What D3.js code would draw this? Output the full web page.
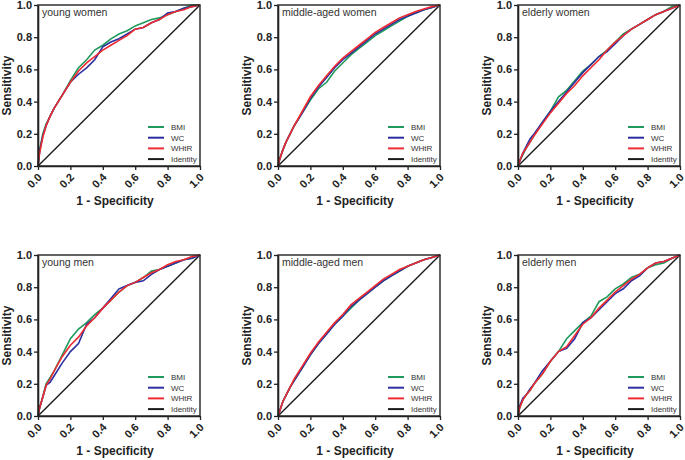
<!DOCTYPE html>
<html>
<head>
<script src="https://d3js.org/d3.v7.min.js" charset="utf-8"></script>
<style>
    body { margin: 0; background: #fff; }
    svg { font-family: "Liberation Sans", Arial, sans-serif; }
</style>
</head>
<body>
<script>
    // false positive rate grid shared by every curve
    var fpr = [0, 0.01, 0.03, 0.05, 0.075, 0.1, 0.15, 0.2, 0.25, 0.3, 0.35, 0.4, 0.45, 0.5, 0.55, 0.6, 0.65, 0.7, 0.75, 0.8, 0.85, 0.9, 0.95, 1];

    var panelNames = ["young women", "middle-aged women", "elderly women", "young men", "middle-aged men", "elderly men"];
    var seriesNames = ["BMI", "WC", "WHtR"];
    var tickValues = [0, 0.2, 0.4, 0.6, 0.8, 1.0];

    // sensitivity
    var ywBMI  = [0, 0.10, 0.20, 0.26, 0.31, 0.36, 0.44, 0.53, 0.61, 0.66, 0.72, 0.75, 0.79, 0.82, 0.84, 0.87, 0.89, 0.91, 0.92, 0.94, 0.96, 0.98, 1.00, 1];
    var ywWC   = [0, 0.09, 0.19, 0.25, 0.31, 0.36, 0.44, 0.52, 0.57, 0.61, 0.66, 0.74, 0.77, 0.79, 0.82, 0.85, 0.86, 0.89, 0.91, 0.95, 0.96, 0.98, 0.99, 1];
    var ywWHtR = [0, 0.08, 0.18, 0.25, 0.31, 0.36, 0.44, 0.52, 0.59, 0.64, 0.68, 0.72, 0.75, 0.78, 0.81, 0.85, 0.86, 0.89, 0.91, 0.94, 0.96, 0.97, 0.99, 1];

    var mwBMI  = [0, 0.04, 0.10, 0.15, 0.20, 0.25, 0.33, 0.41, 0.48, 0.52, 0.59, 0.64, 0.69, 0.73, 0.77, 0.81, 0.84, 0.87, 0.90, 0.93, 0.95, 0.97, 0.985, 1];
    var mwWC   = [0, 0.04, 0.10, 0.15, 0.20, 0.25, 0.33, 0.42, 0.49, 0.55, 0.61, 0.66, 0.70, 0.74, 0.78, 0.82, 0.85, 0.88, 0.91, 0.93, 0.95, 0.97, 0.985, 1];
    var mwWHtR = [0, 0.04, 0.10, 0.15, 0.20, 0.25, 0.34, 0.43, 0.50, 0.56, 0.62, 0.67, 0.71, 0.75, 0.79, 0.83, 0.86, 0.89, 0.92, 0.94, 0.96, 0.975, 0.99, 1];

    var ewBMI  = [0, 0.03, 0.07, 0.11, 0.15, 0.19, 0.27, 0.34, 0.43, 0.47, 0.53, 0.59, 0.63, 0.68, 0.72, 0.77, 0.82, 0.85, 0.88, 0.91, 0.94, 0.96, 0.99, 1];
    var ewWC   = [0, 0.03, 0.08, 0.12, 0.17, 0.20, 0.27, 0.34, 0.40, 0.46, 0.52, 0.58, 0.63, 0.68, 0.71, 0.76, 0.81, 0.85, 0.88, 0.91, 0.94, 0.96, 0.98, 1];
    var ewWHtR = [0, 0.03, 0.08, 0.11, 0.15, 0.19, 0.26, 0.33, 0.39, 0.45, 0.50, 0.56, 0.61, 0.66, 0.72, 0.77, 0.81, 0.85, 0.88, 0.91, 0.94, 0.96, 0.98, 1];

    var ymBMI  = [0, 0.05, 0.12, 0.20, 0.24, 0.28, 0.38, 0.48, 0.54, 0.58, 0.63, 0.67, 0.72, 0.77, 0.81, 0.83, 0.86, 0.90, 0.91, 0.93, 0.95, 0.97, 0.98, 1];
    var ymWC   = [0, 0.05, 0.12, 0.19, 0.21, 0.25, 0.33, 0.40, 0.45, 0.57, 0.61, 0.67, 0.73, 0.79, 0.81, 0.83, 0.84, 0.88, 0.91, 0.93, 0.95, 0.97, 0.98, 1];
    var ymWHtR = [0, 0.05, 0.12, 0.19, 0.23, 0.28, 0.37, 0.44, 0.49, 0.56, 0.61, 0.67, 0.72, 0.77, 0.81, 0.83, 0.86, 0.89, 0.91, 0.94, 0.96, 0.97, 0.99, 1];

    var mmBMI  = [0, 0.03, 0.09, 0.13, 0.18, 0.22, 0.30, 0.38, 0.45, 0.51, 0.57, 0.62, 0.67, 0.72, 0.76, 0.80, 0.84, 0.87, 0.90, 0.93, 0.95, 0.97, 0.985, 1];
    var mmWC   = [0, 0.03, 0.09, 0.13, 0.18, 0.22, 0.30, 0.38, 0.45, 0.51, 0.57, 0.62, 0.68, 0.72, 0.76, 0.80, 0.84, 0.87, 0.90, 0.93, 0.95, 0.97, 0.985, 1];
    var mmWHtR = [0, 0.03, 0.09, 0.13, 0.18, 0.23, 0.31, 0.39, 0.46, 0.52, 0.58, 0.63, 0.69, 0.73, 0.77, 0.81, 0.85, 0.88, 0.91, 0.93, 0.95, 0.97, 0.985, 1];

    var emBMI  = [0, 0.05, 0.10, 0.13, 0.16, 0.20, 0.26, 0.34, 0.40, 0.48, 0.53, 0.58, 0.62, 0.71, 0.74, 0.79, 0.82, 0.86, 0.88, 0.92, 0.94, 0.95, 0.98, 1];
    var emWC   = [0, 0.06, 0.11, 0.13, 0.17, 0.20, 0.28, 0.34, 0.40, 0.42, 0.48, 0.58, 0.61, 0.66, 0.71, 0.76, 0.79, 0.84, 0.87, 0.92, 0.95, 0.96, 0.98, 1];
    var emWHtR = [0, 0.05, 0.10, 0.13, 0.16, 0.20, 0.26, 0.34, 0.40, 0.43, 0.50, 0.57, 0.61, 0.67, 0.72, 0.77, 0.81, 0.85, 0.88, 0.92, 0.95, 0.96, 0.98, 1];

    var panelData = [
        [ywBMI, ywWC, ywWHtR],
        [mwBMI, mwWC, mwWHtR],
        [ewBMI, ewWC, ewWHtR],
        [ymBMI, ymWC, ymWHtR],
        [mmBMI, mmWC, mmWHtR],
        [emBMI, emWC, emWHtR]
    ];

    var colors = ["#1f9a5c", "#2b2fa0", "#ee2b30"];

    //Width and height
    var wid = 685;
    var h = 460;
    var pw = 162, ph = 161;
    var lefts = [38, 278, 518];
    var tops = [5, 255];

    var svg = d3.select("body")
                .append("svg")
                .attr("width", wid)
                .attr("height", h);

    var x = d3.scaleLinear().domain([0, 1]).range([0, pw]);
    var y = d3.scaleLinear().domain([0, 1]).range([ph, 0]);

    var line = d3.line()
        .x(function(d) { return x(d[0]); })
        .y(function(d) { return y(d[1]); });

    panelNames.forEach(function(name, p) {
        var g = svg.append("g")
            .attr("transform", "translate(" + lefts[p % 3] + "," + tops[Math.floor(p / 3)] + ")");

        // identity line
        g.append("path")
            .datum([[0, 0], [1, 1]])
            .attr("d", line)
            .attr("fill", "none")
            .attr("stroke", "#1a1a1a")
            .attr("stroke-width", 1.4);

        panelData[p].forEach(function(tpr, s) {
            g.append("path")
                .datum(fpr.map(function(f, i) { return [f, tpr[i]]; }))
                .attr("d", line)
                .attr("fill", "none")
                .attr("stroke", colors[s])
                .attr("stroke-width", 1.6);
        });

        // frame
        g.append("rect")
            .attr("width", pw)
            .attr("height", ph)
            .attr("fill", "none")
            .attr("stroke", "#222")
            .attr("stroke-width", 1.4);

        var yAxis = g.append("g")
            .call(d3.axisLeft(y).tickValues(tickValues).tickFormat(d3.format(".1f")).tickSize(4).tickSizeOuter(0));
        yAxis.select(".domain").attr("stroke", "#222").attr("stroke-width", 1.6);
        yAxis.selectAll(".tick line").attr("stroke", "#222").attr("stroke-width", 1.3);
        yAxis.selectAll(".tick text")
            .attr("x", -6)
            .attr("fill", "#222")
            .style("font-size", "11px")
            .style("font-weight", "bold");

        var xAxis = g.append("g")
            .attr("transform", "translate(0," + ph + ")")
            .call(d3.axisBottom(x).tickValues(tickValues).tickFormat(d3.format(".1f")).tickSize(4).tickSizeOuter(0));
        xAxis.select(".domain").attr("stroke", "#222").attr("stroke-width", 1.6);
        xAxis.selectAll(".tick line").attr("stroke", "#222").attr("stroke-width", 1.3);
        xAxis.selectAll(".tick text")
            .attr("y", 0)
            .attr("dy", 0)
            .attr("transform", "translate(4,12) rotate(-45)")
            .attr("text-anchor", "end")
            .attr("fill", "#222")
            .style("font-size", "11px")
            .style("font-weight", "bold");

        // axis titles
        g.append("text")
            .attr("x", pw / 2 - 4)
            .attr("y", 200)
            .attr("text-anchor", "middle")
            .attr("fill", "#222")
            .style("font-size", "12px")
            .style("font-weight", "bold")
            .text("1 - Specificity");

        g.append("text")
            .attr("transform", "translate(-27," + (ph / 2) + ") rotate(-90)")
            .attr("text-anchor", "middle")
            .attr("fill", "#222")
            .style("font-size", "12px")
            .style("font-weight", "bold")
            .text("Sensitivity");

        g.append("text")
            .attr("x", 4)
            .attr("y", 11)
            .attr("fill", "#333")
            .style("font-size", "10.5px")
            .text(name);

        // legend
        var legendNames = seriesNames.concat(["Identity"]);
        var legendColors = colors.concat(["#1a1a1a"]);
        legendNames.forEach(function(n, i) {
            var ly = ph - 39 + i * 10.7;
            g.append("line")
                .attr("x1", pw - 52).attr("x2", pw - 36)
                .attr("y1", ly).attr("y2", ly)
                .attr("stroke", legendColors[i])
                .attr("stroke-width", 2);
            g.append("text")
                .attr("x", pw - 29)
                .attr("y", ly + 3)
                .attr("fill", "#333")
                .style("font-size", "8px")
                .text(n);
        });
    });
</script>
</body>
</html>
